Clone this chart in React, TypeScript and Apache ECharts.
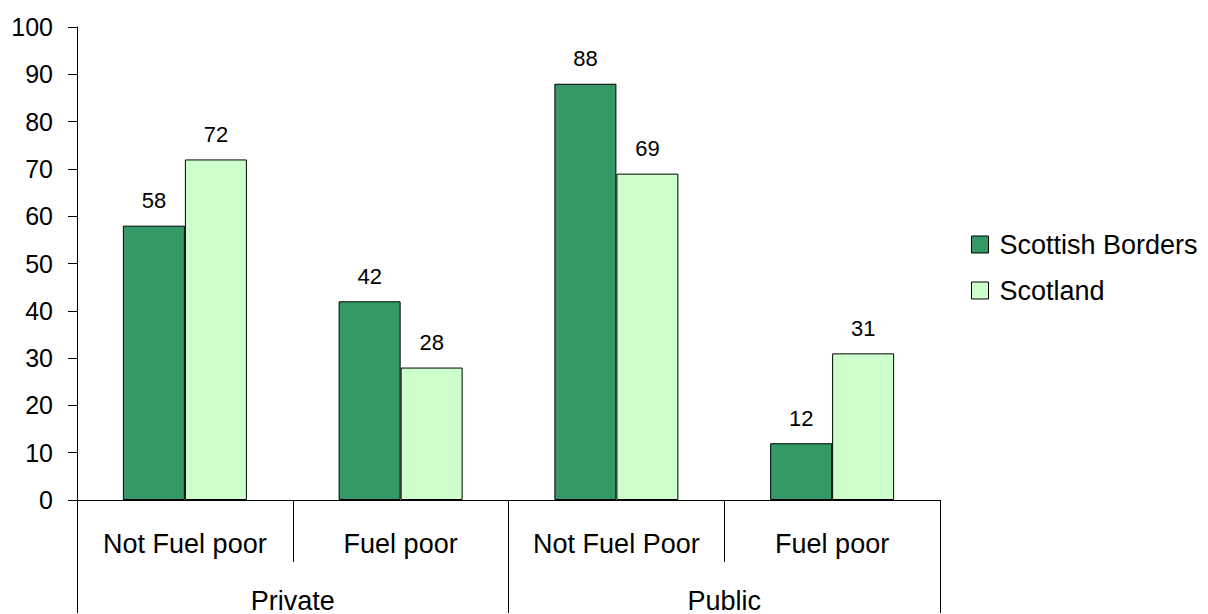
import React, { useEffect, useRef } from "react";
import * as echarts from "echarts";

// Tenure groups and fuel-poverty categories
const groups = ["Private", "Public"];
const categories = ["Not Fuel poor", "Fuel poor", "Not Fuel Poor", "Fuel poor"];
const seriesNames = ["Scottish Borders", "Scotland"];
const bordersValues = [58, 42, 88, 12];
const scotlandValues = [72, 28, 69, 31];
const yTicks = { min: 0, max: 100, interval: 10 };

const FONT = "'Liberation Sans', Arial, sans-serif";

export default function App() {
  const ref = useRef<HTMLDivElement>(null);

  useEffect(() => {
    if (!ref.current) return;
    const chart = echarts.init(ref.current, undefined, { renderer: "svg" });

    const barStyle = (color: string) => ({
      color,
      borderColor: "#000",
      borderWidth: 1,
    });

    const label = {
      show: true,
      position: "top" as const,
      distance: 14,
      color: "#000",
      fontSize: 22,
      fontFamily: FONT,
    };

    chart.setOption({
      animation: false,
      backgroundColor: "#fff",
      textStyle: { fontFamily: FONT },
      grid: { left: 77, right: 268, top: 27, bottom: 113, containLabel: false },
      legend: {
        orient: "vertical",
        left: 966,
        top: 226,
        itemWidth: 17,
        itemHeight: 17,
        itemGap: 19,
        icon: "rect",
        itemStyle: { borderColor: "#000", borderWidth: 1 },
        textStyle: {
          fontSize: 27,
          lineHeight: 27,
          color: "#000",
          fontFamily: FONT,
          padding: [0, 0, 0, 6],
        },
        data: seriesNames,
      },
      xAxis: [
        {
          type: "category",
          data: categories,
          position: "bottom",
          axisLine: { show: true, lineStyle: { color: "#000", width: 1 } },
          axisTick: {
            show: true,
            alignWithLabel: false,
            interval: 0,
            length: 62,
            lineStyle: { color: "#000", width: 1 },
          },
          axisLabel: {
            interval: 0,
            margin: 30,
            fontSize: 27,
            color: "#000",
            fontFamily: FONT,
          },
        },
        {
          type: "category",
          data: groups,
          position: "bottom",
          axisLine: { show: false },
          axisTick: {
            show: true,
            interval: 0,
            length: 113,
            lineStyle: { color: "#000", width: 1 },
          },
          axisLabel: {
            interval: 0,
            margin: 87,
            fontSize: 27,
            color: "#000",
            fontFamily: FONT,
          },
        },
      ],
      yAxis: {
        type: "value",
        min: yTicks.min,
        max: yTicks.max,
        interval: yTicks.interval,
        axisLine: { show: true, lineStyle: { color: "#000", width: 1 } },
        axisTick: { show: true, length: 9, lineStyle: { color: "#000", width: 1 } },
        splitLine: { show: false },
        axisLabel: { margin: 24, fontSize: 25, color: "#000", fontFamily: FONT },
      },
      series: [
        {
          name: seriesNames[0],
          type: "bar",
          xAxisIndex: 0,
          data: bordersValues,
          barWidth: 62,
          barGap: "0%",
          itemStyle: barStyle("#339966"),
          label,
        },
        {
          name: seriesNames[1],
          type: "bar",
          xAxisIndex: 0,
          data: scotlandValues,
          barWidth: 62,
          barGap: "0%",
          itemStyle: barStyle("#CCFFCC"),
          label,
        },
      ],
    });

    return () => chart.dispose();
  }, []);

  return (
    <div
      ref={ref}
      style={{ position: "fixed", left: 0, top: 0, width: 1208, height: 614 }}
    />
  );
}
